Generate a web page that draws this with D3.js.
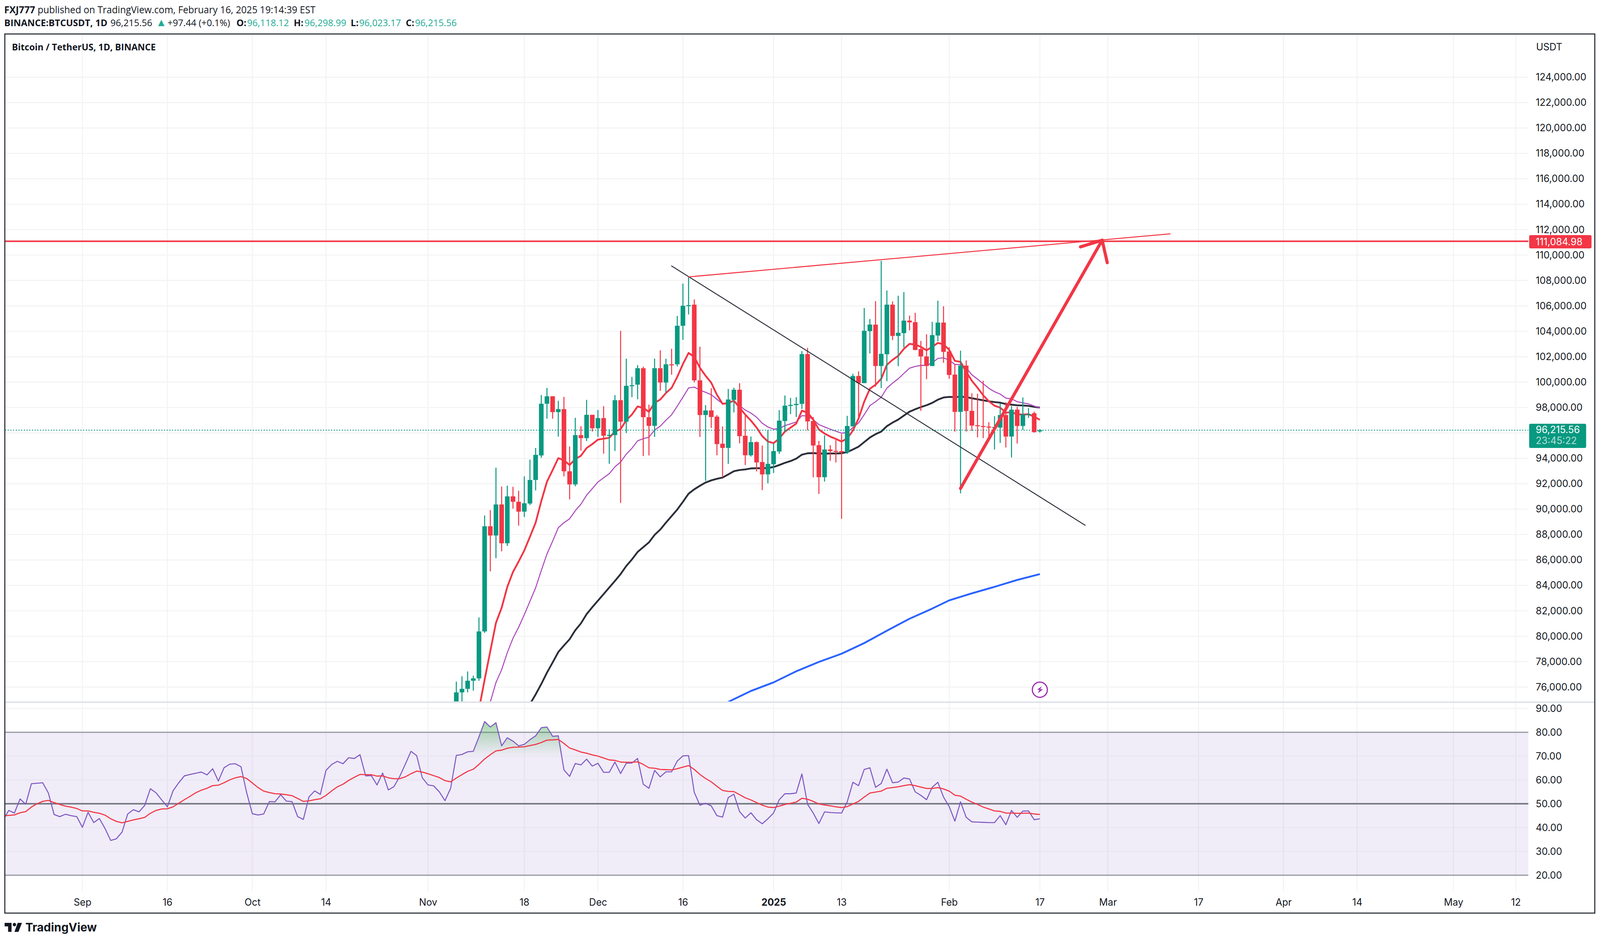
<!DOCTYPE html>
<html>
<head>
<meta charset="utf-8">
<script src="https://cdn.jsdelivr.net/npm/d3@7"></script>
<style>
    html, body { margin: 0; padding: 0; background: #fff; overflow: hidden; }
    svg { display: block; width: 100vw; height: 100vh; }
    text { font-family: Inter, sans-serif; fill: #131722; }
    .head text, text.head { font-family: "Open Sans", sans-serif; }
</style>
</head>
<body>
<script>
// daily BTCUSDT candles, first one is 2024-11-06
const candleStart = "2024-11-06";
const opens = [69400,75580,75861,76497,76685,80377,88655,87926,90372,87314,91007,90583,89807,90443,92300,94228,98297,98885,97638,97874,92982,91947,95828,95592,97427,96368,97168,95780,95828,98579,96886,99708,99802,101095,97239,96557,101095,99967,101401,101401,104435,106010,
    106096,100138,97409,97770,97284,95151,94822,98601,99401,95778,94242,95277,93708,92737,93537,94540,96939,98146,98193,98287,102207,96939,95041,92517,94697,94587,94571,94477,96516,100483,99918,104011,104528,101267,102192,106096,103634,103854,104842,104716,102600,102019,101267,103666,
    104685,102411,100592,97660,101298,97739,96610,96547,96500,96437,96421,97409,95716,97833,96547,97472,97550,96118.12];
const highs = [76426,76849,77226,76896,81482,89501,89925,93264,91783,91853,91759,91453,92582,93899,94816,98979,99543,98885,98532,98838,94934,97192,96533,98603,97427,97803,98109,96298,98979,104035,101848,100413,101330,101213,98226,101848,102506,101848,102624,105211,107751,108276,
    106504,102787,98193,99526,97409,96515,99463,99557,99918,97519,95716,95324,95010,96233,95167,97801,98946,98758,98820,102443,102693,97252,95371,95810,95042,95434,95904,97347,100655,100843,105829,104967,106378,109546,107209,106347,106802,107084,105234,105453,103242,103760,104747,106410,
    105971,102740,101408,102474,101706,99118,99087,100106,96845,97315,98319,98413,98115,98052,98789,97958,97675,96298.99];
const lows = [68700,74800,75580,75721,76497,80259,85104,86139,86679,87103,90042,88702,89384,90325,91477,94040,97121,97121,95710,92582,90771,91806,94605,95357,96110,95687,94370,93570,94581,90489,95992,98814,98650,94181,94228,95687,99308,99167,100578,101236,103329,105328,
    99981,95684,92219,96390,94242,92501,93568,97613,95183,93474,94132,92972,91498,92031,92846,94352,96076,97488,97252,97895,96202,92501,91200,92172,93803,93677,89240,94352,96516,97252,99918,102254,99636,99526,100075,103305,101251,102725,104073,102505,97739,100232,101267,103211,
    101517,100263,96108,91247,96108,96155,95653,95590,95716,94697,95214,94853,94069,95167,96233,97190,96029,96023.17];
const closes = [75580,75861,76497,76685,80377,88655,87926,90372,87314,91007,90583,89807,90466,92300,94275,98297,98885,97638,97874,92982,91947,95828,95592,97427,96368,97168,95780,95851,98579,96886,99708,99755,101095,97239,96557,101095,99967,101401,101340,104435,106010,106057,
    100138,97409,97770,97252,95120,94822,98632,99401,95747,94242,95277,93677,92737,93568,94571,96970,98146,98209,98287,102207,96907,95010,92517,94697,94571,94540,94477,96547,100483,99918,104042,104528,101267,102223,106096,103634,103885,104842,104700,102537,102019,101267,103697,104685,
    102380,100561,97660,101298,97723,96578,96578,96500,96437,96469,97409,95716,97833,96547,97472,97488,96061,96215.56];

// moving averages, one value a day up to 2025-02-17
const emaRedStart = "2024-11-10";
const emaRed = [74239,76591,78825,81059,82235,83881,85057,85880,86750,87832,88937,90631,92159,93076,94016,93852,93476,93946,94205,94816,95122,95475,95545,95616,96110,96298,97003,97450,98085,97968,97662,98367,98626,99143,99543,100413,101425,102295,
    101988,101125,100498,99950,99009,98287,98350,98538,97989,97441,96970,96421,95747,95324,95198,95559,96107,96421,96735,97754,97597,97049,96265,95951,95716,95528,95324,95559,96186,97127,98460,99479,99793,100263,101361,101753,102066,102615,103007,102960,102772,102505,102772,103085,102976,
    102537,101674,101596,100812,100106,99557,98962,98491,98146,97989,97597,97629,97472,97441,97472,97283,97033];
const emaPurpleStart = "2024-11-12";
const emaPurple = [74827,76356,77367,78707,79836,80706,81694,82752,83810,85174,86468,87479,88537,88937,89243,89878,90395,91100,91618,92135,92465,92794,93335,93711,94323,94793,95381,95545,95663,96227,96533,97003,97428,98109,98815,99543,
    99605,99369,99197,99009,98648,98303,98381,98491,98146,97801,97566,97237,96766,96468,96296,96343,96578,96719,96860,97362,97331,97049,96657,96468,96296,96139,95982,96029,96421,96782,97441,98146,98460,98804,99526,99918,100263,100686,101094,101235,101314,101314,101517,101862,101909,
    101721,101392,101376,101125,100577,100232,99871,99510,99244,99056,98742,98679,98460,98366,98287,98115,97958];
const emaBlackStart = "2024-11-19";
const emaBlack = [74662,75415,76238,77131,77931,78754,79271,79765,80471,81012,81741,82282,82800,83316,83834,84351,84892,85527,86044,86632,87009,87385,87973,88396,88937,89454,89972,90583,91218,
    91561,91843,92094,92266,92391,92486,92736,92987,93081,93129,93207,93223,93223,93238,93317,93473,93646,93787,93975,94289,94399,94414,94383,94367,94383,94383,94399,94493,94697,94916,95277,95637,95904,96107,96531,96813,97049,97362,97676,97864,98036,98178,98366,98616,98789,
    98836,98820,98852,98820,98726,98648,98570,98491,98429,98381,98272,98225,98178,98162,98131,98053,97989];
// blue one is smooth, so a reading every few days is enough
const emaBlueDates = ["2024-12-24","2024-12-28","2025-01-01","2025-01-05","2025-01-09","2025-01-13","2025-01-17","2025-01-21","2025-01-25","2025-01-29","2025-02-01","2025-02-05","2025-02-09","2025-02-13","2025-02-17"];
const emaBlue = [74831,75691,76367,77238,77976,78621,79461,80435,81377,82176,82822,83375,83887,84430,84891];

// rsi pane, one value a day
const rsiStart = "2024-08-18";
const rsiValues = [43.1,47.2,46.1,52.0,49.8,58.4,58.6,58.8,54.5,45.5,44.6,45.6,45.0,44.6,40.1,46.4,42.1,43.8,39.6,34.6,35.3,38.1,45.7,47.5,46.6,49.3,56.3,54.6,51.6,48.7,55.4,58.8,61.7,62.3,62.8,63.3,62.1,64.7,59.5,65.1,66.6,66.8,65.5,54.6,45.8,45.3,45.7,50.9,50.8,53.8,51.1,50.9,44.6,43.4,52.9,55.4,53.9,64.0,66.5,67.8,66.8,69.3,69.0,70.6,61.7,61.8,57.9,62.9,55.8,57.2,61.4,66.6,72.0,70.2,60.9,57.9,57.5,55.0,51.3,56.5,70.3,70.7,71.8,72.0,78.1,84.5,82.2,84.0,74.3,77.7,76.3,74.3,74.9,76.9,78.5,
    81.9,82.2,78.3,78.5,64.2,61.5,66.9,66.3,68.7,65.8,67.0,63.2,63.2,67.5,62.7,67.0,67.1,69.0,58.2,56.5,64.0,61.3,63.4,63.4,67.9,70.1,70.2,54.8,49.4,50.2,49.1,45.0,44.4,52.6,54.0,46.7,44.0,46.2,43.3,41.6,43.7,46.1,51.7,54.2,54.2,54.5,62.5,49.8,46.1,41.7,46.6,46.3,46.2,46.1,50.8,59.0,57.6,64.4,65.1,56.9,58.5,64.5,58.8,59.1,60.8,60.4,55.0,53.5,51.7,56.9,59.0,52.8,48.8,42.7,50.8,44.3,42.4,42.3,42.2,42.1,42.1,45.0,41.2,47.2,44.3,46.9,47.0,43.3,43.7];
const rsiMa = [44.9,45.1,45.3,46.2,46.7,48.6,50.0,51.0,51.4,50.5,49.7,49.0,48.6,48.0,47.0,47.0,46.4,46.0,45.2,43.7,42.6,42.0,42.6,43.2,43.7,44.3,46.0,47.2,47.8,47.9,48.7,50.2,51.7,53.1,54.6,55.7,56.5,57.6,57.8,58.8,60.0,60.9,61.4,60.6,58.7,56.8,55.3,54.7,54.2,54.1,53.8,53.4,52.2,51.0,51.2,51.7,52.1,53.5,55.4,57.1,58.2,59.8,61.1,62.3,62.2,62.2,61.6,61.7,60.9,60.5,60.5,61.3,62.6,63.7,63.3,62.6,61.8,61.0,59.7,59.2,60.8,62.2,63.6,64.5,66.5,68.8,70.6,72.2,72.5,73.3,73.7,73.8,73.9,74.4,74.9,
    75.7,76.7,76.8,77.0,75.3,73.4,72.6,71.7,71.2,70.5,70.0,69.2,68.4,68.2,67.5,67.4,67.4,67.6,66.5,65.1,64.9,64.4,64.3,64.2,64.7,65.4,66.0,64.4,62.3,60.6,59.2,57.3,55.6,55.2,55.1,53.8,52.5,51.6,50.5,49.4,48.6,48.4,49.0,49.7,50.2,50.7,52.3,51.9,51.0,49.9,49.5,49.1,48.7,48.4,48.8,49.9,51.0,52.8,54.5,54.9,55.3,56.5,56.8,57.1,57.6,58.0,57.6,57.0,56.4,56.4,56.8,56.2,55.3,53.6,53.2,51.9,50.7,49.7,48.6,47.8,47.0,46.8,46.1,46.1,46.0,46.0,46.1,45.7,45.5];

// axes
const priceTicks = d3.range(76000, 124001, 2000);
const rsiTicks = [90, 80, 70, 60, 50, 40, 30, 20];
const timeTicks = ["2024-09-01","2024-09-16","2024-10-01","2024-10-14","2024-11-01","2024-11-18","2024-12-01","2024-12-16","2025-01-01","2025-01-13","2025-02-01","2025-02-17","2025-03-01","2025-03-17","2025-04-01","2025-04-14","2025-05-01","2025-05-12"];
const timeLabels = ["Sep","16","Oct","14","Nov","18","Dec","16","2025","13","Feb","17","Mar","17","Apr","14","May","12"];

// drawings on the chart
const resistanceLevel = 111084.98;
const lastPrice = 96215.56;
const blackTrend = [["2024-12-14", 109142], ["2025-02-25", 88733]];
const redTrend = [["2024-12-17", 108281], ["2025-03-12", 111671]];
const arrowLine = [["2025-02-03", 91638], ["2025-02-28", 111170]];

const GREEN = "#089981";
const RED = "#F23645";
const FRAME = "#2A2E39";
const GRID = "#F3F3F4";

const width = 4156;
const height = 2412;
const left = 13;
const top_ = 87;
const paneRight = 3970;
const frameRight = 4143;
const frameBottom = 2338;
const mainBottom = 1796;
const gridBottom = 2282;

const parseDay = d3.utcParse("%Y-%m-%d");
const daily = (start, values) => {
    const first = parseDay(start);
    return values.map((v, i) => ({ date: d3.utcDay.offset(first, i), v: v }));
};

const x = d3.scaleUtc()
    .domain([parseDay("2024-09-01"), parseDay("2025-02-17")])
    .range([214, 2701]);
const y = d3.scaleLinear().domain([76000, 124000]).range([1759.2, 197.6]);
const yRsi = d3.scaleLinear().domain([20, 80]).range([2241, 1875]);

// the window can come out a bit smaller than asked, the viewBox keeps the layout
const svg = d3.select("body").append("svg")
    .attr("viewBox", [0, 0, width, height])
    .attr("preserveAspectRatio", "none");

const defs = svg.append("defs");
defs.append("clipPath").attr("id", "mainClip").append("rect")
    .attr("x", left).attr("y", top_)
    .attr("width", paneRight - left).attr("height", mainBottom - top_);
defs.append("clipPath").attr("id", "rsiClip").append("rect")
    .attr("x", left).attr("y", 1800)
    .attr("width", paneRight - left).attr("height", gridBottom - 1800);
const grad = defs.append("linearGradient").attr("id", "obFill")
    .attr("gradientUnits", "userSpaceOnUse")
    .attr("x1", 0).attr("x2", 0)
    .attr("y1", yRsi(85)).attr("y2", yRsi(70));
grad.append("stop").attr("offset", 0).attr("stop-color", "#2e9e3a").attr("stop-opacity", 0.45);
grad.append("stop").attr("offset", 1).attr("stop-color", "#2e9e3a").attr("stop-opacity", 0);

// grid
const gridV = svg.append("g").attr("stroke", GRID).attr("stroke-width", 2.6);
gridV.selectAll("line").data(timeTicks).join("line")
    .attr("x1", (d) => x(parseDay(d))).attr("x2", (d) => x(parseDay(d)))
    .attr("y1", top_).attr("y2", gridBottom);
const gridH = svg.append("g").attr("stroke", GRID).attr("stroke-width", 2.6);
gridH.selectAll("line").data(priceTicks).join("line")
    .attr("x1", left).attr("x2", paneRight)
    .attr("y1", (d) => y(d)).attr("y2", (d) => y(d));

// pane separator
svg.append("line")
    .attr("x1", left).attr("x2", frameRight)
    .attr("y1", 1798).attr("y2", 1798)
    .attr("stroke", "#E0E3EB").attr("stroke-width", 4);

// main pane
const main = svg.append("g").attr("clip-path", "url(#mainClip)");
const priceLine = d3.line().x((d) => x(d.date)).y((d) => y(d.v));
const maSeries = [
    { data: daily(emaBlackStart, emaBlack), color: "#2A2E39", w: 4.6 },
    { data: emaBlueDates.map((d, i) => ({ date: parseDay(d), v: emaBlue[i] })), color: "#2962FF", w: 4.6 },
    { data: daily(emaPurpleStart, emaPurple), color: "#AB47BC", w: 2.6 },
    { data: daily(emaRedStart, emaRed), color: RED, w: 4.6 },
];
main.selectAll("path.ma").data(maSeries).join("path")
    .attr("class", "ma")
    .attr("fill", "none")
    .attr("stroke", (d) => d.color)
    .attr("stroke-width", (d) => d.w)
    .attr("stroke-linejoin", "round")
    .attr("d", (d) => priceLine(d.data));

// last price line
main.append("line")
    .attr("x1", left).attr("x2", paneRight)
    .attr("y1", y(lastPrice)).attr("y2", y(lastPrice))
    .attr("stroke", GREEN).attr("stroke-width", 2.6)
    .attr("stroke-dasharray", "2.6 4.4");

const candleData = opens.map((o, i) => ({
    date: d3.utcDay.offset(parseDay(candleStart), i),
    o: o, h: highs[i], l: lows[i], c: closes[i],
}));
const candles = main.selectAll("g.candle").data(candleData).join("g")
    .attr("class", "candle")
    .attr("fill", (d) => (d.c >= d.o ? GREEN : RED))
    .attr("stroke", "none");
candles.append("rect")
    .attr("x", (d) => x(d.date) - 1.3)
    .attr("width", 2.6)
    .attr("y", (d) => y(d.h))
    .attr("height", (d) => y(d.l) - y(d.h));
candles.append("rect")
    .attr("x", (d) => x(d.date) - 6)
    .attr("width", 12)
    .attr("y", (d) => y(Math.max(d.o, d.c)))
    .attr("height", (d) => Math.max(2.6, Math.abs(y(d.o) - y(d.c))));

// drawings
const trendLine = (pts, color, w) => {
    svg.append("line")
        .attr("x1", x(parseDay(pts[0][0]))).attr("y1", y(pts[0][1]))
        .attr("x2", x(parseDay(pts[1][0]))).attr("y2", y(pts[1][1]))
        .attr("stroke", color).attr("stroke-width", w).attr("stroke-linecap", "round");
};
trendLine(blackTrend, "#2A2E39", 2.4);
trendLine(redTrend, RED, 2.6);
svg.append("line")
    .attr("x1", left).attr("x2", paneRight)
    .attr("y1", y(resistanceLevel)).attr("y2", y(resistanceLevel))
    .attr("stroke", RED).attr("stroke-width", 4);

// arrow, barbs are a fixed length in pixels off the tip
trendLine(arrowLine, RED, 8);
const tipX = x(parseDay(arrowLine[1][0]));
const tipY = y(arrowLine[1][1]);
const back = Math.atan2(y(arrowLine[0][1]) - tipY, x(parseDay(arrowLine[0][0])) - tipX);
[-43, 43].forEach((deg) => {
    const a = back + (deg * Math.PI) / 180;
    svg.append("line")
        .attr("x1", tipX).attr("y1", tipY)
        .attr("x2", tipX + 59 * Math.cos(a)).attr("y2", tipY + 59 * Math.sin(a))
        .attr("stroke", RED).attr("stroke-width", 8).attr("stroke-linecap", "round");
});

// lightning mark under the last bar
const bolt = svg.append("g").attr("transform", `translate(${x(parseDay("2025-02-17"))},1766)`);
bolt.append("circle").attr("r", 19.5).attr("fill", "#fff").attr("stroke", "#9C27B0").attr("stroke-width", 3);
bolt.append("path").attr("d", "M5,-9 L-7,0 L-1,0 L-5,9 L8,-1 L1,-1 Z").attr("fill", "#9C27B0");

// rsi pane
const rsiPane = svg.append("g").attr("clip-path", "url(#rsiClip)");
rsiPane.append("rect")
    .attr("x", left).attr("width", paneRight - left)
    .attr("y", yRsi(80)).attr("height", yRsi(20) - yRsi(80))
    .attr("fill", "#7E57C2").attr("fill-opacity", 0.115);
rsiPane.selectAll("line.g").data(rsiTicks.filter((t) => ![80, 50, 20].includes(t))).join("line")
    .attr("class", "g")
    .attr("x1", left).attr("x2", paneRight)
    .attr("y1", (d) => yRsi(d)).attr("y2", (d) => yRsi(d))
    .attr("stroke", "#E9E6F0").attr("stroke-width", 2.6);
rsiPane.selectAll("line.g").filter((d) => d === 90).attr("stroke", GRID);
rsiPane.selectAll("line.v").data(timeTicks).join("line")
    .attr("class", "v")
    .attr("x1", (d) => x(parseDay(d))).attr("x2", (d) => x(parseDay(d)))
    .attr("y1", yRsi(80)).attr("y2", yRsi(20))
    .attr("stroke", "#E6E3EE").attr("stroke-width", 2.2);
[[80, "#9598A1", 3], [20, "#9598A1", 3], [50, "#787B86", 4]].forEach(([v, c, w]) => {
    rsiPane.append("line")
        .attr("x1", left).attr("x2", paneRight)
        .attr("y1", yRsi(v)).attr("y2", yRsi(v))
        .attr("stroke", c).attr("stroke-width", w);
});

const rsiData = daily(rsiStart, rsiValues);
rsiPane.append("path")
    .attr("fill", "url(#obFill)")
    .attr("d", d3.area()
        .x((d) => x(d.date))
        .y0(yRsi(70))
        .y1((d) => yRsi(Math.max(d.v, 70)))(rsiData));
const rsiLine = d3.line().x((d) => x(d.date)).y((d) => yRsi(d.v));
rsiPane.append("path")
    .attr("fill", "none").attr("stroke", "#7E57C2").attr("stroke-width", 2.6)
    .attr("stroke-linejoin", "round")
    .attr("d", rsiLine(rsiData));
rsiPane.append("path")
    .attr("fill", "none").attr("stroke", RED).attr("stroke-width", 2.8)
    .attr("stroke-linejoin", "round")
    .attr("d", rsiLine(daily(rsiStart, rsiMa)));

// price and rsi axes, the green tag sits where 96,000.00 would be
const labelX = 3989;
const priceAxis = svg.append("g")
    .attr("transform", `translate(${labelX},0)`)
    .call(d3.axisRight(y).tickValues(priceTicks.filter((t) => t !== 96000)).tickSize(0).tickPadding(0).tickFormat(d3.format(",.2f")));
const rsiAxis = svg.append("g")
    .attr("transform", `translate(${labelX},0)`)
    .call(d3.axisRight(yRsi).tickValues(rsiTicks).tickSize(0).tickPadding(0).tickFormat(d3.format(".2f")));
const timeAxis = svg.append("g")
    .attr("transform", "translate(0,2301)")
    .call(d3.axisBottom(x).tickValues(timeTicks.map(parseDay)).tickSize(0).tickPadding(0)
        .tickFormat((d, i) => timeLabels[i]));
[priceAxis, rsiAxis, timeAxis].forEach((a) => {
    a.select(".domain").remove();
    a.attr("font-family", null).attr("font-size", null);
    a.selectAll("text").attr("font-size", 25).style("fill", "#131722");
});
timeAxis.selectAll("text").filter((d, i) => timeLabels[i] === "2025").attr("font-weight", 700);

// frame goes on top of the panes
svg.append("rect")
    .attr("x", left - 0.5).attr("y", top_)
    .attr("width", frameRight - left).attr("height", frameBottom - top_)
    .attr("fill", "none").attr("stroke", FRAME).attr("stroke-width", 2.8);

// price tags
const tag = (tagY, h, w, fill) => svg.append("rect")
    .attr("x", 3972).attr("y", tagY).attr("width", w).attr("height", h).attr("rx", 4).attr("fill", fill);
tag(602, 34, 162, RED);
svg.append("text").attr("x", labelX).attr("y", 619).attr("dy", "0.35em").attr("font-size", 25)
    .style("fill", "#fff").text(d3.format(",.2f")(resistanceLevel));
tag(1085, 62, 148, GREEN);
svg.append("text").attr("x", labelX).attr("y", 1100).attr("dy", "0.35em").attr("font-size", 25)
    .style("fill", "#fff").text(d3.format(",.2f")(lastPrice));
svg.append("text").attr("x", labelX).attr("y", 1128).attr("dy", "0.35em").attr("font-size", 25)
    .style("fill", "#fff").style("fill-opacity", 0.7).text("23:45:22");

// titles, a run with x starts at its own position
const addRuns = (tx, ty, size, runs) => {
    const t = svg.append("text").attr("class", "head").attr("x", tx).attr("y", ty).attr("font-size", size);
    runs.forEach((r) => {
        const s = t.append("tspan")
            .attr("font-weight", r.b ? 700 : 400)
            .style("fill", r.c || "#131722")
            .text(r.t);
        if (r.x) s.attr("x", r.x);
        if (r.s) s.attr("font-size", r.s);
    });
};
addRuns(11, 34, 24.6, [
    { t: "FXJ777", b: true },
    { t: " published on TradingView.com, February 16, 2025 19:14:39 EST" },
]);
const UP = "#22AB94";
addRuns(11, 67, 24, [
    { t: "BINANCE:BTCUSDT, 1D", b: true },
    { t: "96,215.56", x: 287 },
    { t: "▲", c: UP, x: 405, s: 28 },
    { t: "+97.44 (+0.1%)", x: 435 },
    { t: "O:", b: true, x: 614 }, { t: "96,118.12", c: UP, x: 642 },
    { t: "H:", b: true, x: 763 }, { t: "96,298.99", c: UP, x: 791 },
    { t: "L:", b: true, x: 911 }, { t: "96,023.17", c: UP, x: 933 },
    { t: "C:", b: true, x: 1054 }, { t: "96,215.56", c: UP, x: 1078 },
]);
addRuns(31, 129, 23.4, [{ t: "Bitcoin / TetherUS, 1D, BINANCE", b: true }]);
svg.append("text").attr("x", 3990).attr("y", 120).attr("dy", "0.35em").attr("font-size", 25).text("USDT");

// logo
const logo = svg.append("g").attr("fill", "#131722");
logo.append("path").attr("d", "M12,2363 H30 V2386 H21 V2372 H12 Z");
logo.append("circle").attr("cx", 37.5).attr("cy", 2367.5).attr("r", 4.4);
logo.append("path").attr("d", "M46,2363 H57 L48,2386 H37.5 Z");
svg.append("text").attr("x", 66).attr("y", 2385.5)
    .attr("font-size", 30).attr("font-weight", 700).text("TradingView");
</script>
</body>
</html>
